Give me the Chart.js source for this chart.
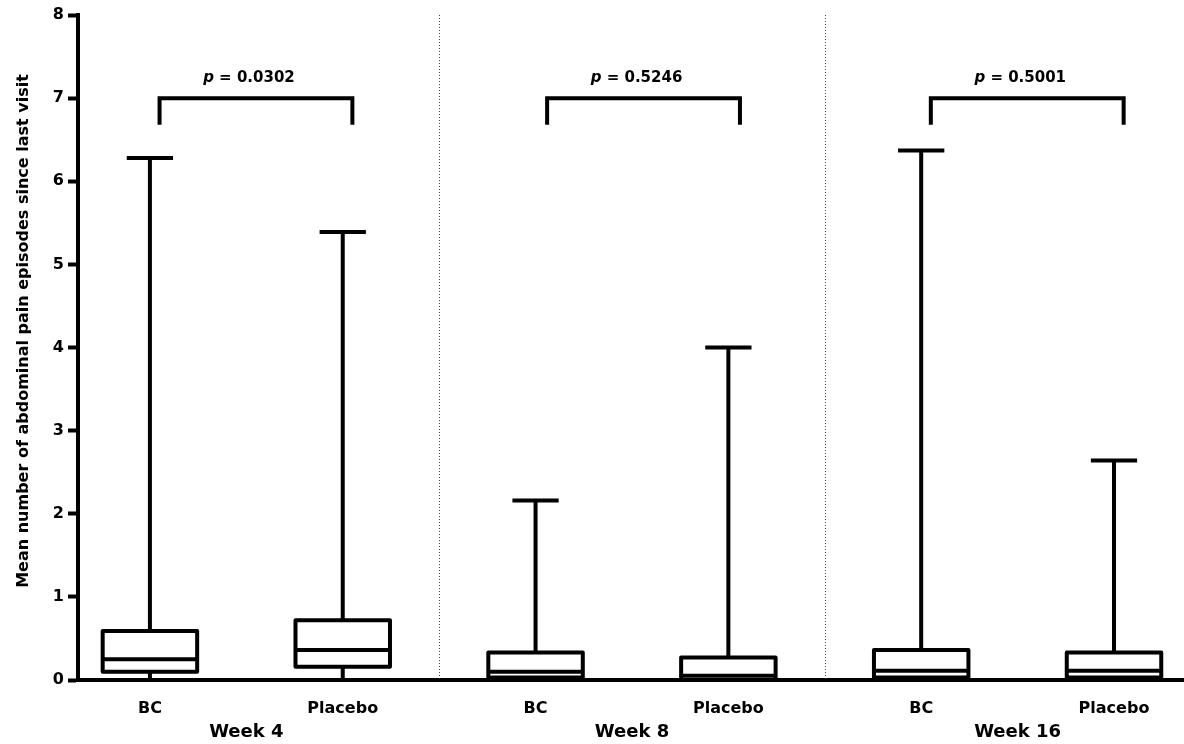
<!DOCTYPE html>
<html>
<head>
<meta charset="utf-8">
<script src="https://cdn.jsdelivr.net/npm/chart.js@4.4.0/dist/chart.umd.min.js"></script>
<style>
  html, body { margin: 0; padding: 0; background: #fff; }
  #wrap { width: 1184px; height: 744px; }
</style>
</head>
<body>
<div id="wrap"><canvas id="chart" width="1184" height="744"></canvas></div>
<script>
// box plot values
const groups = ['BC', 'Placebo', 'BC', 'Placebo', 'BC', 'Placebo'];
const groupX = [1, 2, 3, 4, 5, 6];
const whiskerLow = [0, 0, 0, 0, 0, 0];
const q1 = [0.10, 0.16, 0.03, 0.00, 0.03, 0.03];
const median = [0.25, 0.36, 0.10, 0.05, 0.11, 0.11];
const q3 = [0.59, 0.72, 0.33, 0.27, 0.36, 0.33];
const whiskerHigh = [6.28, 5.39, 2.16, 4.00, 6.37, 2.64];

const weeks = ['Week 4', 'Week 8', 'Week 16'];
const weekX = [1.5, 3.5, 5.5];
const separatorX = [2.5, 4.5];
const pValues = ['0.0302', '0.5246', '0.5001'];
const bracketFrom = [1.05, 3.06, 5.05];
const bracketTo = [2.05, 4.06, 6.05];
const bracketTop = 7.0;
const bracketLeg = 6.68;
const pLabelY = 7.24;

const yTitle = 'Mean number of abdominal pain episodes since last visit';
const FONT = '"DejaVu Sans", Arial, sans-serif';

const boxPlugin = {
    id: 'boxes',
    afterDatasetsDraw(chart) {
        const { ctx, chartArea } = chart;
        const x = chart.scales.x;
        const y = chart.scales.y;
        const halfBox = (x.getPixelForValue(1.49) - x.getPixelForValue(1)) / 2;
        const halfCap = (x.getPixelForValue(1.24) - x.getPixelForValue(1)) / 2;

        ctx.save();

        // dotted week separators
        ctx.strokeStyle = '#444';
        ctx.lineWidth = 1;
        ctx.setLineDash([1, 2]);
        separatorX.forEach(v => {
            const px = Math.round(x.getPixelForValue(v)) + 0.5;
            ctx.beginPath();
            ctx.moveTo(px, chartArea.top);
            ctx.lineTo(px, chartArea.bottom);
            ctx.stroke();
        });
        ctx.setLineDash([]);

        ctx.strokeStyle = '#000';
        ctx.lineWidth = 4;
        ctx.lineJoin = 'round';
        groupX.forEach((gx, i) => {
            const cx = x.getPixelForValue(gx);
            const yHi = y.getPixelForValue(whiskerHigh[i]);
            const yLo = y.getPixelForValue(whiskerLow[i]);
            const yQ1 = y.getPixelForValue(q1[i]);
            const yQ3 = y.getPixelForValue(q3[i]);
            const yMed = y.getPixelForValue(median[i]);

            ctx.beginPath();
            ctx.moveTo(cx, yHi);
            ctx.lineTo(cx, yQ3);
            ctx.moveTo(cx, yQ1);
            ctx.lineTo(cx, yLo);
            ctx.moveTo(cx - halfCap, yHi);
            ctx.lineTo(cx + halfCap, yHi);
            ctx.stroke();

            ctx.fillStyle = '#fff';
            ctx.fillRect(cx - halfBox, yQ3, halfBox * 2, yQ1 - yQ3);
            ctx.strokeRect(cx - halfBox, yQ3, halfBox * 2, yQ1 - yQ3);

            ctx.beginPath();
            ctx.moveTo(cx - halfBox, yMed);
            ctx.lineTo(cx + halfBox, yMed);
            ctx.stroke();
        });

        // significance brackets
        ctx.lineJoin = 'miter';
        ctx.fillStyle = '#000';
        ctx.textBaseline = 'middle';
        pValues.forEach((p, i) => {
            const x0 = x.getPixelForValue(bracketFrom[i]);
            const x1 = x.getPixelForValue(bracketTo[i]);
            const yt = y.getPixelForValue(bracketTop);
            const yl = y.getPixelForValue(bracketLeg);
            ctx.beginPath();
            ctx.moveTo(x0, yl);
            ctx.lineTo(x0, yt);
            ctx.lineTo(x1, yt);
            ctx.lineTo(x1, yl);
            ctx.stroke();

            const ty = y.getPixelForValue(pLabelY);
            const italic = 'italic bold 15px ' + FONT;
            const bold = 'bold 15px ' + FONT;
            ctx.font = italic;
            const wp = ctx.measureText('p').width;
            ctx.font = bold;
            const rest = ' = ' + p;
            const wr = ctx.measureText(rest).width;
            const tx = (x0 + x1) / 2 - (wp + wr) / 2 - 7;
            ctx.textAlign = 'left';
            ctx.font = italic;
            ctx.fillText('p', tx, ty);
            ctx.font = bold;
            ctx.fillText(rest, tx + wp, ty);
        });

        // week labels
        ctx.textAlign = 'center';
        ctx.font = 'bold 18px ' + FONT;
        weeks.forEach((w, i) => {
            ctx.fillText(w, x.getPixelForValue(weekX[i]), 732);
        });

        // y axis title
        ctx.font = 'bold 16px ' + FONT;
        ctx.textBaseline = 'alphabetic';
        ctx.translate(28, 331);
        ctx.rotate(-Math.PI / 2);
        ctx.fillText(yTitle, 0, 0);

        ctx.restore();
    }
};

new Chart(document.getElementById('chart'), {
    type: 'scatter',
    data: {
        datasets: [{
            data: groupX.map((gx, i) => ({ x: gx, y: median[i] })),
            pointRadius: 0,
            showLine: false,
        }],
    },
    options: {
        responsive: false,
        animation: false,
        devicePixelRatio: 1,
        layout: { padding: { top: 15, right: 0, left: 0, bottom: 0 } },
        plugins: {
            legend: { display: false },
            tooltip: { enabled: false },
        },
        scales: {
            x: {
                type: 'linear',
                min: 0.627,
                max: 6.363,
                afterFit: s => { s.height = 64; },
                afterBuildTicks: s => { s.ticks = groupX.map(v => ({ value: v })); },
                grid: { display: false, drawTicks: false },
                border: { display: true, color: '#000', width: 4 },
                ticks: {
                    color: '#000',
                    padding: 19,
                    maxRotation: 0,
                    autoSkip: false,
                    font: { family: FONT, size: 16, weight: 'bold' },
                    callback: v => groups[groupX.indexOf(v)] ?? '',
                },
            },
            y: {
                min: 0,
                max: 8,
                afterFit: s => { s.width = 78; },
                grid: {
                    drawOnChartArea: false,
                    drawTicks: true,
                    tickLength: 10,
                    tickWidth: 4,
                    tickColor: '#000',
                },
                border: { display: true, color: '#000', width: 4 },
                ticks: {
                    stepSize: 1,
                    color: '#000',
                    padding: 4,
                    font: { family: FONT, size: 16, weight: 'bold' },
                },
            },
        },
    },
    plugins: [boxPlugin],
});
</script>
</body>
</html>
